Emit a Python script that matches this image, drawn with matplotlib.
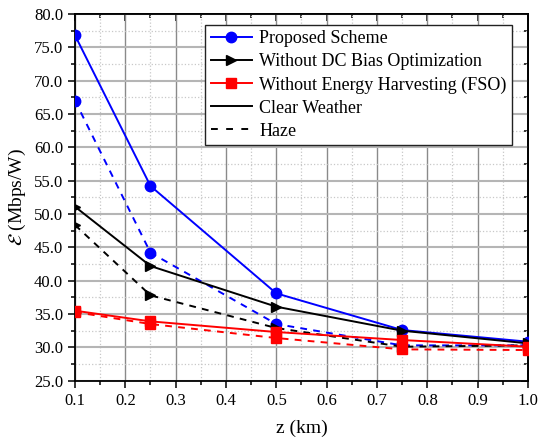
import numpy as np
import matplotlib.pyplot as plt
from matplotlib.lines import Line2D
from matplotlib.ticker import MultipleLocator, FormatStrFormatter

plt.rcParams['font.family'] = 'Liberation Serif'
plt.rcParams['mathtext.fontset'] = 'stix'

z = [0.1, 0.25, 0.5, 0.75, 1.0]

# clear weather (solid) / haze (dashed)
prop_clear = [76.8, 54.2, 38.1, 32.6, 30.85]
prop_haze = [67.0, 44.2, 33.5, 30.3, 30.3]
nodc_clear = [51.1, 42.2, 36.1, 32.5, 30.6]
nodc_haze = [48.35, 37.8, 32.9, 30.1, 30.3]
noeh_clear = [35.5, 33.9, 32.3, 31.1, 30.1]
noeh_haze = [35.3, 33.5, 31.4, 29.7, 29.6]

labels = ['Proposed Scheme', 'Without DC Bias Optimization',
          'Without Energy Harvesting (FSO)', 'Clear Weather', 'Haze']

fig = plt.figure(figsize=(5.38, 4.41), dpi=100)
ax = fig.add_axes([0.1394, 0.1367, 0.842, 0.8316])

lw = 1.4
ms = 7.5
dash = (0, (3.5, 3.2))
ax.plot(z, prop_clear, color='blue', ls='-', lw=lw, marker='o', ms=ms, zorder=5)
ax.plot(z, prop_haze, color='blue', ls=dash, lw=lw, marker='o', ms=ms, zorder=5)
ax.plot(z, nodc_clear, color='black', ls='-', lw=lw, marker='>', ms=ms, zorder=5)
ax.plot(z, nodc_haze, color='black', ls=dash, lw=lw, marker='>', ms=ms, zorder=5)
ax.plot(z, noeh_clear, color='red', ls='-', lw=lw, marker='s', ms=ms, zorder=5)
ax.plot(z, noeh_haze, color='red', ls=dash, lw=lw, marker='s', ms=ms, zorder=5)

ax.set_xlim(0.1, 1.0)
ax.set_ylim(25, 80)
ax.xaxis.set_major_locator(MultipleLocator(0.1))
ax.xaxis.set_minor_locator(MultipleLocator(0.05))
ax.yaxis.set_major_locator(MultipleLocator(5))
ax.yaxis.set_minor_locator(MultipleLocator(2.5))
ax.xaxis.set_major_formatter(FormatStrFormatter('%.1f'))
ax.yaxis.set_major_formatter(FormatStrFormatter('%.1f'))

ax.xaxis.grid(True, which='major', color='#8a8a8a', lw=1.0)
ax.yaxis.grid(True, which='major', color='#b5b5b5', lw=1.5)
ax.grid(True, which='minor', color='#c8c8c8', ls=':', lw=0.9)
ax.set_axisbelow(True)

for s in ax.spines.values():
    s.set_linewidth(1.3)

ax.tick_params(which='both', direction='out', labelsize=12, width=1.1)
ax.tick_params(which='major', length=5)
ax.tick_params(which='minor', length=3)

# inward ticks on top/right
sx = ax.secondary_xaxis('top')
sy = ax.secondary_yaxis('right')
sx.xaxis.set_major_locator(MultipleLocator(0.1))
sx.xaxis.set_minor_locator(MultipleLocator(0.05))
sy.yaxis.set_major_locator(MultipleLocator(5))
sy.yaxis.set_minor_locator(MultipleLocator(2.5))
for sec in (sx, sy):
    sec.tick_params(which='both', direction='in', width=1.1, labeltop=False,
                    labelright=False)
    sec.tick_params(which='major', length=5)
    sec.tick_params(which='minor', length=3)
    for s in sec.spines.values():
        s.set_linewidth(1.3)

ax.set_xlabel('z (km)', fontsize=14, labelpad=8)
ax.set_ylabel(r'$\mathcal{E}$ (Mbps/W)', fontsize=14, labelpad=4)

handles = [
    Line2D([], [], color='blue', lw=lw, marker='o', ms=ms),
    Line2D([], [], color='black', lw=lw, marker='>', ms=ms),
    Line2D([], [], color='red', lw=lw, marker='s', ms=ms),
    Line2D([], [], color='black', lw=lw, ls='-'),
    Line2D([], [], color='black', lw=lw, ls=(0, (3.5, 4.3))),
]
leg = ax.legend(handles, labels, loc='upper right', bbox_to_anchor=(0.965, 0.970),
                borderaxespad=0, fontsize=13, handlelength=2.3, handletextpad=0.4,
                labelspacing=0.33, borderpad=0.3, fancybox=False,
                framealpha=1, edgecolor='#222222')
leg.get_frame().set_linewidth(1.0)
leg.set_zorder(10)

fig.savefig('out.png', dpi=100)
